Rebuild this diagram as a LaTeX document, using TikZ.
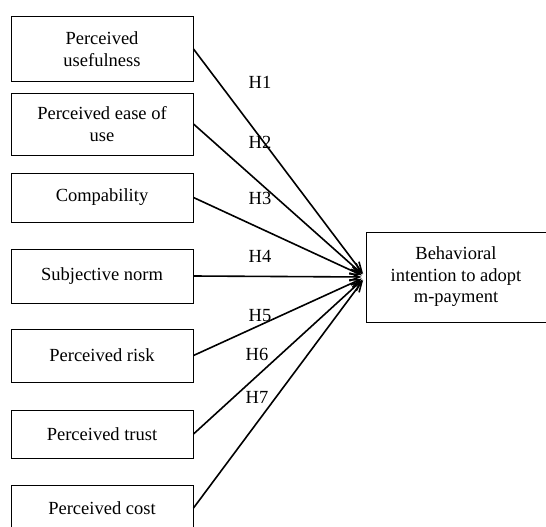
\documentclass[tikz,border=0pt]{standalone}
\usepackage{fontspec}
\setmainfont{Liberation Serif}
\usetikzlibrary{arrows.meta}
\begin{document}
\begin{tikzpicture}[x=1pt,y=-1pt,
  box/.style={draw,line width=1pt,minimum width=182pt,align=center,inner sep=0pt,
    font=\fontsize{18.5}{21.5}\selectfont},
  rbox/.style={draw,line width=1pt,minimum width=180pt,minimum height=90pt,align=center,inner sep=0pt,
    font=\fontsize{18.5}{21.5}\selectfont},
  lbl/.style={font=\fontsize{18.5}{21.5}\selectfont,inner sep=0pt},
  arr/.style={line width=1.6pt,-{Straight Barb[length=10pt,width=8pt]},shorten >=4pt}]
\useasboundingbox (0,0) rectangle (546,527);
\node[box,minimum height=64pt] (b1) at (102,49) {Perceived\\usefulness};
\node[box,minimum height=62pt] (b2) at (102,124) {Perceived ease of\\use};
\node[box,minimum height=49pt] (b3) at (102,197.5) {Compability};
\node[box,minimum height=54pt] (b4) at (102,276) {Subjective norm};
\node[box,minimum height=53pt] (b5) at (102,355.5) {Perceived risk};
\node[box,minimum height=48pt] (b6) at (102,434) {Perceived trust};
\node[box,minimum height=46pt] (b7) at (102,508) {Perceived cost};
\node[rbox] (out) at (456,277) {Behavioral\\intention to adopt\\m-payment};
\foreach \b in {b1,b2,b3,b4,b5,b6,b7} \draw[arr] (\b.east) -- (out.west);
\node[lbl] (h1) at (260,82) {H1};
\node[lbl] (h2) at (260,142) {H2};
\node[lbl] (h3) at (260,198) {H3};
\node[lbl] (h4) at (260,256) {H4};
\node[lbl] (h5) at (260,316) {H5};
\node[lbl] (h6) at (257,354) {H6};
\node[lbl] (h7) at (257,397) {H7};
\end{tikzpicture}
\end{document}
